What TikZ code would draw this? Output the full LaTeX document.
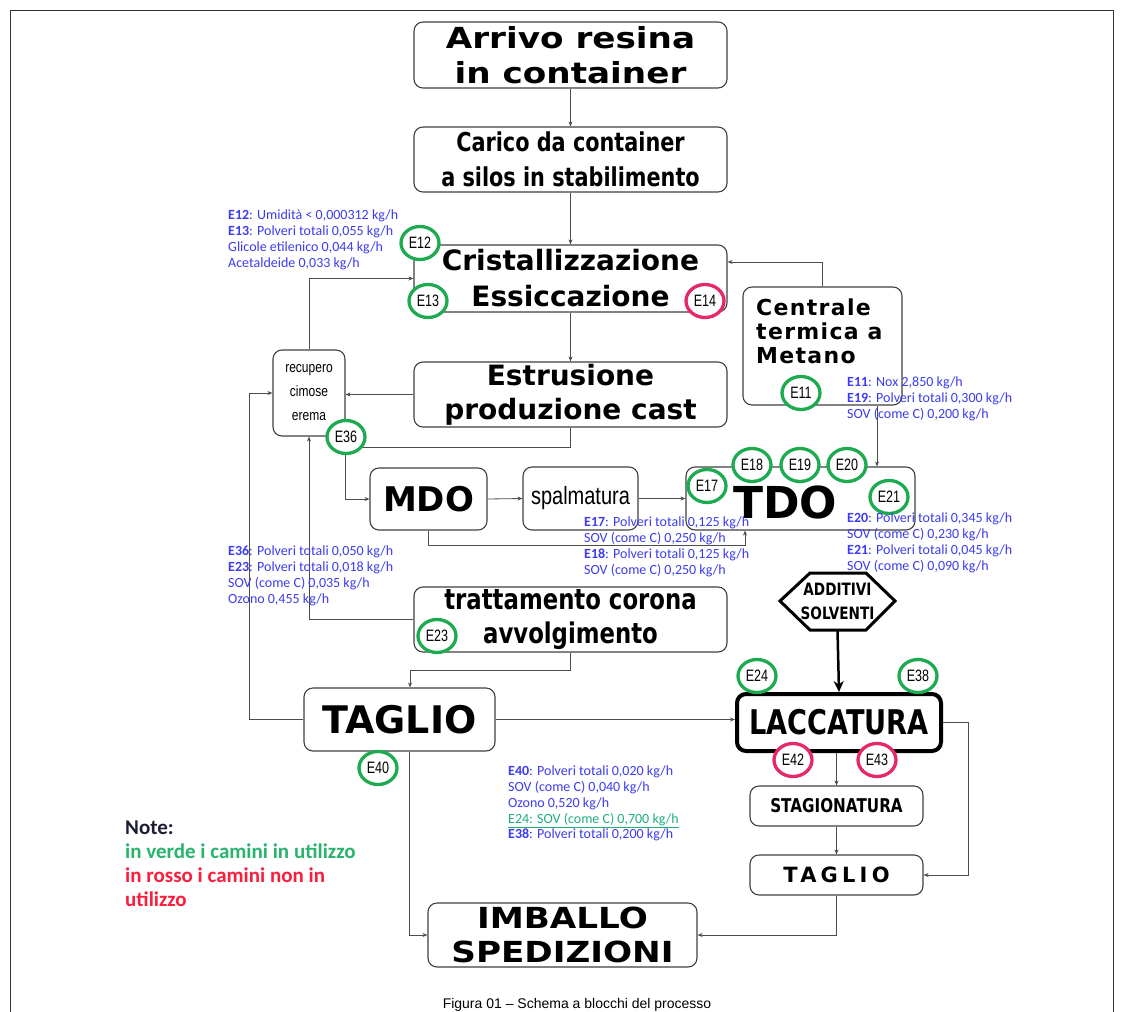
\documentclass[tikz,border=0pt]{standalone}
\usepackage{fontspec}
\usetikzlibrary{arrows.meta,shapes.geometric}
\setmainfont{Liberation Sans}
\newfontfamily\hv{DejaVu Sans}
\newfontfamily\hvw[FakeStretch=1.18]{DejaVu Sans}
\newfontfamily\hvc[FakeStretch=0.8]{DejaVu Sans}
\newfontfamily\lsc[FakeStretch=0.8]{Liberation Sans}
\newfontfamily\lscc[FakeStretch=0.76]{Liberation Sans}
\newfontfamily\carl{Carlito}
\newcommand\fsz[2]{\fontsize{#1}{#2}\selectfont}
\definecolor{eblue}{RGB}{60,60,240}
\definecolor{cgreen}{RGB}{30,170,80}
\definecolor{cred}{RGB}{230,40,100}
\definecolor{ngreen}{RGB}{40,180,110}
\definecolor{nred}{RGB}{250,30,60}
\definecolor{tgreen}{RGB}{30,175,120}
\begin{document}
\begin{tikzpicture}[x=1pt,y=-1pt,
  box/.style={draw=black!75, line width=1.1pt, rounded corners=9pt, fill=white, inner sep=0pt, align=center},
  arr/.style={draw=black!70, line width=0.8pt, -{Stealth[length=5pt,width=4pt]}},
  gc/.style={ellipse, draw=cgreen, line width=3.3pt, fill=white, minimum width=38pt, minimum height=33pt, inner sep=0pt, font=\lscc\fsz{16.5}{16.5}},
  rc/.style={gc, draw=cred},
  etxt/.style={anchor=north west, inner sep=0pt, align=left, text=eblue, font=\carl\fsz{14}{15.7}}]
\useasboundingbox (0,0) rectangle (1125,1012);
\fill[white] (0,0) rectangle (1125,1012);
\draw[black!80, line width=1pt] (10,1012) -- (10,10) -- (1113,10) -- (1113,1012);

% boxes
\node[box, minimum width=313pt, minimum height=66pt, font=\hvw\bfseries\fsz{29}{35}] (arrivo) at (570.5,55) {Arrivo resina\\in container};
\node[box, minimum width=313pt, minimum height=65pt, font=\hvc\bfseries\fsz{26}{35}] (carico) at (570.5,159.5) {Carico da container\\a silos in stabilimento};
\node[box, minimum width=313pt, minimum height=67pt, font=\hv\bfseries\fsz{28}{36}] (crist) at (570.5,278.5) {Cristallizzazione\\Essiccazione};
\node[box, minimum width=159pt, minimum height=118pt] (centrale) at (822.5,346) {};
\node[anchor=north west, inner sep=0pt, align=left, font={\hv\bfseries\fsz{22}{24}\addfontfeature{LetterSpace=6}}] (centxt) at (756,299) {Centrale\\termica a\\Metano};
\node[box, minimum width=72pt, minimum height=86pt, font=\lsc\fsz{15}{24}] (recup) at (309,393) {recupero\\cimose\\erema};
\node[box, minimum width=313pt, minimum height=65pt, font=\hv\bfseries\fsz{28}{34}] (estr) at (570.5,394.5) {Estrusione\\produzione cast};
\node[box, minimum width=117pt, minimum height=62pt, font=\hv\bfseries\fsz{34}{34}] (mdo) at (428.5,499) {MDO};
\node[box, minimum width=115pt, minimum height=63pt, font=\lsc\fsz{25}{25}] (spal) at (580.5,498.5) {spalmatura};
\node[box, minimum width=229pt, minimum height=63pt] (tdo) at (800.5,498.5) {};
\node[inner sep=0pt, font=\hv\bfseries\fsz{44}{44}] (tdotxt) at (785,502) {TDO};
\node[box, minimum width=313pt, minimum height=65pt, font=\hvc\bfseries\fsz{28.5}{34}] (tratt) at (570.5,619.5) {trattamento corona\\avvolgimento};
\node[box, minimum width=191pt, minimum height=63pt, font=\hv\bfseries\fsz{38}{38}] (tag1) at (399.5,719.5) {TAGLIO};
\node[box, draw=black, line width=4pt, minimum width=204pt, minimum height=57pt, font=\hvc\bfseries\fsz{34}{34}] (lacc) at (839,722.5) {LACCATURA};
\node[box, minimum width=173pt, minimum height=40pt, font=\hvc\bfseries\fsz{19}{19}] (stag) at (836.5,806) {STAGIONATURA};
\node[box, minimum width=173pt, minimum height=40pt, font={\hv\bfseries\fsz{21}{21}\addfontfeature{LetterSpace=20}}] (tag2) at (836.5,875) {TAGLIO};
\node[box, minimum width=269pt, minimum height=64pt, font=\hvw\bfseries\fsz{29}{34}] (imb) at (562.5,935) {IMBALLO\\SPEDIZIONI};

% hexagon
\coordinate (hA) at (780,601); \coordinate (hB) at (810,573); \coordinate (hC) at (866,573);
\coordinate (hD) at (895,601); \coordinate (hE) at (866,630); \coordinate (hF) at (810,630);
\coordinate (hexb) at (837.5,630);
\draw[line width=3pt, line join=miter] (hA) -- (hB) -- (hC) -- (hD) -- (hE) -- (hF) -- cycle;
\node[inner sep=0pt, align=center, font=\hvc\bfseries\fsz{17}{24}] (addtxt) at (837.5,601) {ADDITIVI\\SOLVENTI};

% connectors
\draw[arr] (arrivo.south) -- (carico.north);
\draw[arr] (carico.south) -- (crist.north);
\draw[arr] (crist.south) -- (estr.north);
\draw[arr] (centrale.north) |- ([yshift=16.5pt]crist.east);
\draw[arr] ([xshift=54.5pt]centrale.south) -- ([xshift=54.5pt]centrale.south |- tdo.north);
\draw[arr] (estr.west) -- (estr.west -| recup.east);
\draw[arr] (recup.north) |- (crist.west);
\draw[arr] (tag1.west) -- ++(-54,0) |- (recup.west);
\draw[arr] (tratt.west) -| (recup.south);
\coordinate (j1) at (345,447);
\draw[arr] (estr.south) |- (j1) |- (mdo.west);
\draw[arr] (mdo.east) -- (spal.west);
\draw[arr] (spal.east) -- (spal.east -| tdo.west);
\coordinate (j2) at (745,545);
\draw[arr] (mdo.south) |- (j2) -- (j2 |- tdo.south);
\coordinate (j3) at (410,670);
\draw[arr] (tratt.south) |- (j3) -- (j3 |- tag1.north);
\draw[arr] (tag1.east) -- (tag1.east -| lacc.west);
\draw[line width=2.5pt, -{Stealth[length=11pt,width=10pt]}] (hexb) -- (lacc.north);
\draw[arr] (lacc.south -| stag.north) -- (stag.north);
\draw[arr] (stag.south) -- (tag2.north);
\draw[arr] (lacc.east) -- ++(25,0) |- (tag2.east);
\draw[arr] (tag2.south) |- (imb.east);
\draw[arr] ([xshift=10pt]tag1.south) |- (imb.west);

% stacks
\node[gc] (e12) at (420,243) {E12};
\node[gc] (e13) at (428,301) {E13};
\node[rc] (e14) at (705,301) {E14};
\node[gc] (e11) at (801,393) {E11};
\node[gc] (e36) at (346,437) {E36};
\node[gc] (e17) at (707,486) {E17};
\node[gc] (e18) at (752,465) {E18};
\node[gc] (e19) at (800,465) {E19};
\node[gc] (e20) at (847,465) {E20};
\node[gc] (e21) at (889,497) {E21};
\node[gc] (e23) at (437,636) {E23};
\node[gc] (e24) at (757,676) {E24};
\node[gc] (e38) at (918,676) {E38};
\node[rc] (e42) at (793,760) {E42};
\node[rc] (e43) at (877,760) {E43};
\node[gc] (e40) at (378,768) {E40};

% emission texts
\node[etxt] (t12) at (228,210) {\textbf{E12}: Umidità < 0,000312 kg/h\\\textbf{E13}: Polveri totali 0,055 kg/h\\Glicole etilenico 0,044 kg/h\\Acetaldeide 0,033 kg/h};
\node[etxt] (t11) at (847,377) {\textbf{E11}: Nox 2,850 kg/h\\\textbf{E19}: Polveri totali 0,300 kg/h\\SOV (come C) 0,200 kg/h};
\node[etxt] (t17) at (584,517) {\textbf{E17}: Polveri totali 0,125 kg/h\\SOV (come C) 0,250 kg/h\\\textbf{E18}: Polveri totali 0,125 kg/h\\SOV (come C) 0,250 kg/h};
\node[etxt] (t20) at (847,513) {\textbf{E20}: Polveri totali 0,345 kg/h\\SOV (come C) 0,230 kg/h\\\textbf{E21}: Polveri totali 0,045 kg/h\\SOV (come C) 0,090 kg/h};
\node[etxt] (t36) at (228,546) {\textbf{E36}: Polveri totali 0,050 kg/h\\\textbf{E23}: Polveri totali 0,018 kg/h\\SOV (come C) 0,035 kg/h\\Ozono 0,455 kg/h};
\node[etxt] (t40) at (508,766) {\textbf{E40}: Polveri totali 0,020 kg/h\\SOV (come C) 0,040 kg/h\\Ozono 0,520 kg/h\\{\color{tgreen}\underline{E24: SOV (come C) 0,700 kg/h}}\\\textbf{E38}: Polveri totali 0,200 kg/h};
\node[anchor=north west, inner sep=0pt, align=left, font=\carl\bfseries\fsz{21}{24}] (note) at (125,821) {{\color[RGB]{30,30,50}Note:}\\{\color{ngreen}in verde i camini in utilizzo}\\{\color{nred}in rosso i camini non in}\\{\color{nred}utilizzo}};
\node[anchor=base, inner sep=0pt, font=\fsz{14}{14}] (caption) at (577,1008) {Figura 01 – Schema a blocchi del processo};
\end{tikzpicture}
\end{document}
